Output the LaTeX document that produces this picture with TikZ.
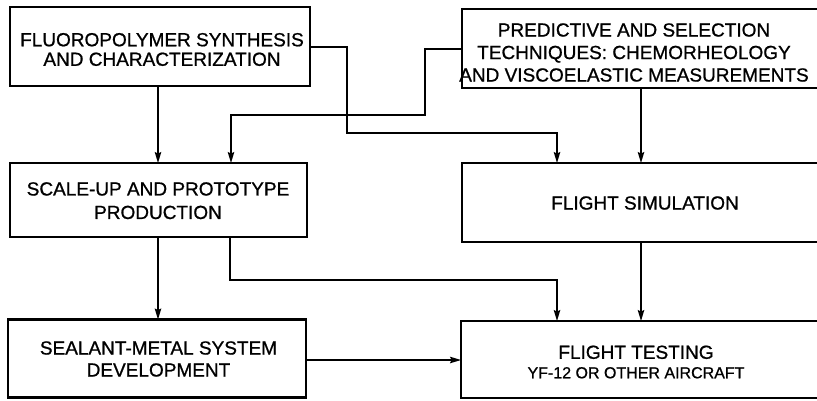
\documentclass[tikz,border=0pt]{standalone}
\usepackage{fontspec}
\setmainfont{Liberation Sans}
\newfontfamily\medfont{Liberation Sans}[FakeBold=0.9]
\usetikzlibrary{arrows.meta}
\begin{document}
\begin{tikzpicture}[x=1pt,y=-1pt,
  boxnode/.style={draw, line width=2.3pt, rectangle, outer sep=0pt, inner sep=0pt},
  txt/.style={align=center, inner sep=0pt, outer sep=0pt},
  conn/.style={line width=1.3pt, -{Stealth[length=11pt,width=6.5pt,inset=1.5pt]}}]
\useasboundingbox (0,0) rectangle (817,400);
% boxes (centres, sizes)
\node[boxnode, minimum width=300pt, minimum height=79pt] (b1) at (160,46.5) {};
\node[boxnode, minimum width=358pt, minimum height=79pt] (b2) at (641,48.5) {};
\node[boxnode, minimum width=297pt, minimum height=74pt] (b3) at (158.5,200) {};
\node[boxnode, minimum width=358pt, minimum height=79pt] (b4) at (641,202.5) {};
\node[boxnode, minimum width=298pt, minimum height=78pt] (b5) at (157,358.5) {};
\node[boxnode, minimum width=359pt, minimum height=77pt] (b6) at (640.5,359.5) {};
% texts
\node[txt, font=\medfont\fontsize{19}{19.5}\selectfont] (t1) at (162,49.5) {FLUOROPOLYMER SYNTHESIS\\AND CHARACTERIZATION};
\node[txt, font=\medfont\fontsize{19}{22.5}\selectfont] (t2) at (634,52.5) {PREDICTIVE AND SELECTION\\TECHNIQUES: CHEMORHEOLOGY\\AND VISCOELASTIC MEASUREMENTS};
\node[txt, font=\medfont\fontsize{19}{23.5}\selectfont] (t3) at (158,200.7) {SCALE-UP AND PROTOTYPE\\PRODUCTION};
\node[txt, font=\medfont\fontsize{19}{22}\selectfont] (t4) at (645,203) {FLIGHT SIMULATION};
\node[txt, font=\medfont\fontsize{19}{22}\selectfont] (t5) at (158.5,359) {SEALANT-METAL SYSTEM\\DEVELOPMENT};
\node[txt, font=\medfont\fontsize{19}{19.5}\selectfont] (t6) at (636,362) {FLIGHT TESTING\\\fontsize{16}{19.5}\selectfont YF-12 OR OTHER AIRCRAFT};
% connectors
\coordinate (a1) at (347,47);
\coordinate (a2) at (347,133);
\coordinate (a3) at (557,133);
\draw[conn] (b1.east |- a1) -- (a1) -- (a2) -- (a3) -- (a3 |- b4.north);
\coordinate (c1) at (425,49);
\coordinate (c2) at (425,115);
\coordinate (c3) at (231,115);
\draw[conn] (b2.west |- c1) -- (c1) -- (c2) -- (c3) -- (c3 |- b3.north);
\coordinate (d1) at (158,0);
\draw[conn] (b1.south -| d1) -- (b3.north -| d1);
\draw[conn] (b3.south -| d1) -- (b5.north -| d1);
\coordinate (e1) at (641,0);
\draw[conn] (b2.south -| e1) -- (b4.north -| e1);
\draw[conn] (b4.south -| e1) -- (b6.north -| e1);
\coordinate (f1) at (230,280);
\coordinate (f2) at (557,280);
\draw[conn] (b3.south -| f1) -- (f1) -- (f2) -- (f2 |- b6.north);
\coordinate (g1) at (0,360);
\draw[conn] (b5.east |- g1) -- (b6.west |- g1);
\end{tikzpicture}
\end{document}
